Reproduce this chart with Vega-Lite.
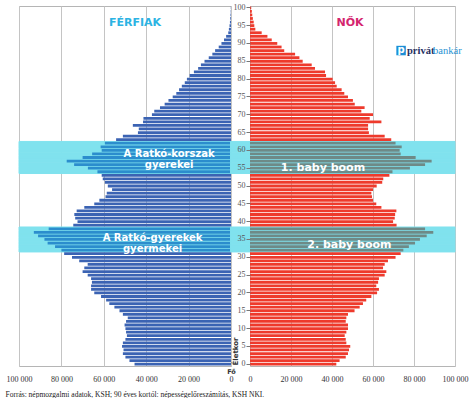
{
  "$schema": "https://vega.github.io/schema/vega-lite/v6.json",
  "description": "Population pyramid, Hungary, men (left) and women (right) by single year of age",
  "background": "white",
  "padding": {"left": 5, "top": 2, "right": 0, "bottom": 0},
  "bounds": "flush",
  "spacing": 19,
  "title": {
    "text": "Forrás: népmozgalmi adatok, KSH; 90 éves kortól: népességelőreszámítás, KSH NKI.",
    "orient": "bottom",
    "anchor": "start",
    "frame": "bounds",
    "font": "Liberation Serif",
    "fontSize": 7.5,
    "fontWeight": "normal",
    "color": "#222222",
    "offset": 7
  },
  "config": {
    "view": {"stroke": "#b5b5b5", "strokeWidth": 1},
    "text": {"font": "DejaVu Sans"}
  },
  "datasets": {
    "pop": [
      {"age": 0, "sex": "férfi", "count": 45500}, {"age": 1, "sex": "férfi", "count": 47900},
      {"age": 2, "sex": "férfi", "count": 49800}, {"age": 3, "sex": "férfi", "count": 51000},
      {"age": 4, "sex": "férfi", "count": 50700}, {"age": 5, "sex": "férfi", "count": 51400},
      {"age": 6, "sex": "férfi", "count": 51000}, {"age": 7, "sex": "férfi", "count": 49800},
      {"age": 8, "sex": "férfi", "count": 49100}, {"age": 9, "sex": "férfi", "count": 49500},
      {"age": 10, "sex": "férfi", "count": 49800}, {"age": 11, "sex": "férfi", "count": 50200},
      {"age": 12, "sex": "férfi", "count": 49500}, {"age": 13, "sex": "férfi", "count": 48700},
      {"age": 14, "sex": "férfi", "count": 51000}, {"age": 15, "sex": "férfi", "count": 52600},
      {"age": 16, "sex": "férfi", "count": 55000}, {"age": 17, "sex": "férfi", "count": 57400},
      {"age": 18, "sex": "férfi", "count": 58900}, {"age": 19, "sex": "férfi", "count": 61300},
      {"age": 20, "sex": "férfi", "count": 64500}, {"age": 21, "sex": "férfi", "count": 66000},
      {"age": 22, "sex": "férfi", "count": 66000}, {"age": 23, "sex": "férfi", "count": 65600},
      {"age": 24, "sex": "férfi", "count": 66000}, {"age": 25, "sex": "férfi", "count": 67600},
      {"age": 26, "sex": "férfi", "count": 70000}, {"age": 27, "sex": "férfi", "count": 69200},
      {"age": 28, "sex": "férfi", "count": 67600}, {"age": 29, "sex": "férfi", "count": 71600},
      {"age": 30, "sex": "férfi", "count": 75000}, {"age": 31, "sex": "férfi", "count": 78700},
      {"age": 32, "sex": "férfi", "count": 80000}, {"age": 33, "sex": "férfi", "count": 83000},
      {"age": 34, "sex": "férfi", "count": 86500}, {"age": 35, "sex": "férfi", "count": 88000},
      {"age": 36, "sex": "férfi", "count": 91000}, {"age": 37, "sex": "férfi", "count": 93000},
      {"age": 38, "sex": "férfi", "count": 86000}, {"age": 39, "sex": "férfi", "count": 74400},
      {"age": 40, "sex": "férfi", "count": 72400}, {"age": 41, "sex": "férfi", "count": 73500},
      {"age": 42, "sex": "férfi", "count": 73900}, {"age": 43, "sex": "férfi", "count": 72800},
      {"age": 44, "sex": "férfi", "count": 69200}, {"age": 45, "sex": "férfi", "count": 64500},
      {"age": 46, "sex": "férfi", "count": 62100}, {"age": 47, "sex": "férfi", "count": 59200},
      {"age": 48, "sex": "férfi", "count": 58600}, {"age": 49, "sex": "férfi", "count": 56100},
      {"age": 50, "sex": "férfi", "count": 58100}, {"age": 51, "sex": "férfi", "count": 59500},
      {"age": 52, "sex": "férfi", "count": 60500}, {"age": 53, "sex": "férfi", "count": 61000},
      {"age": 54, "sex": "férfi", "count": 63000}, {"age": 55, "sex": "férfi", "count": 67500},
      {"age": 56, "sex": "férfi", "count": 74000}, {"age": 57, "sex": "férfi", "count": 77500},
      {"age": 58, "sex": "férfi", "count": 70000}, {"age": 59, "sex": "férfi", "count": 65500},
      {"age": 60, "sex": "férfi", "count": 61000}, {"age": 61, "sex": "férfi", "count": 61500},
      {"age": 62, "sex": "férfi", "count": 59500}, {"age": 63, "sex": "férfi", "count": 54200},
      {"age": 64, "sex": "férfi", "count": 51000}, {"age": 65, "sex": "férfi", "count": 43900},
      {"age": 66, "sex": "férfi", "count": 43500}, {"age": 67, "sex": "férfi", "count": 46300},
      {"age": 68, "sex": "férfi", "count": 41500}, {"age": 69, "sex": "férfi", "count": 41300},
      {"age": 70, "sex": "férfi", "count": 37300}, {"age": 71, "sex": "férfi", "count": 36200},
      {"age": 72, "sex": "férfi", "count": 33500}, {"age": 73, "sex": "férfi", "count": 31300},
      {"age": 74, "sex": "férfi", "count": 29500}, {"age": 75, "sex": "férfi", "count": 27500},
      {"age": 76, "sex": "férfi", "count": 25800}, {"age": 77, "sex": "férfi", "count": 24500},
      {"age": 78, "sex": "férfi", "count": 23200}, {"age": 79, "sex": "férfi", "count": 21800},
      {"age": 80, "sex": "férfi", "count": 20800}, {"age": 81, "sex": "férfi", "count": 19500},
      {"age": 82, "sex": "férfi", "count": 17500}, {"age": 83, "sex": "férfi", "count": 15500},
      {"age": 84, "sex": "férfi", "count": 14200}, {"age": 85, "sex": "férfi", "count": 12500},
      {"age": 86, "sex": "férfi", "count": 10500}, {"age": 87, "sex": "férfi", "count": 8800},
      {"age": 88, "sex": "férfi", "count": 7500}, {"age": 89, "sex": "férfi", "count": 5800},
      {"age": 90, "sex": "férfi", "count": 4500}, {"age": 91, "sex": "férfi", "count": 3300},
      {"age": 92, "sex": "férfi", "count": 2300}, {"age": 93, "sex": "férfi", "count": 1300},
      {"age": 94, "sex": "férfi", "count": 1000}, {"age": 95, "sex": "férfi", "count": 700},
      {"age": 96, "sex": "férfi", "count": 500}, {"age": 97, "sex": "férfi", "count": 350},
      {"age": 98, "sex": "férfi", "count": 250}, {"age": 99, "sex": "férfi", "count": 150},
      {"age": 100, "sex": "férfi", "count": 100},
      {"age": 0, "sex": "nő", "count": 42100}, {"age": 1, "sex": "nő", "count": 43700},
      {"age": 2, "sex": "nő", "count": 46700}, {"age": 3, "sex": "nő", "count": 47800},
      {"age": 4, "sex": "nő", "count": 48300}, {"age": 5, "sex": "nő", "count": 48900},
      {"age": 6, "sex": "nő", "count": 47000}, {"age": 7, "sex": "nő", "count": 46700},
      {"age": 8, "sex": "nő", "count": 46200}, {"age": 9, "sex": "nő", "count": 47000},
      {"age": 10, "sex": "nő", "count": 47800}, {"age": 11, "sex": "nő", "count": 47800},
      {"age": 12, "sex": "nő", "count": 46700}, {"age": 13, "sex": "nő", "count": 47000},
      {"age": 14, "sex": "nő", "count": 47800}, {"age": 15, "sex": "nő", "count": 51000},
      {"age": 16, "sex": "nő", "count": 53500}, {"age": 17, "sex": "nő", "count": 55100},
      {"age": 18, "sex": "nő", "count": 56700}, {"age": 19, "sex": "nő", "count": 59200},
      {"age": 20, "sex": "nő", "count": 62000}, {"age": 21, "sex": "nő", "count": 62900},
      {"age": 22, "sex": "nő", "count": 61600}, {"age": 23, "sex": "nő", "count": 62500},
      {"age": 24, "sex": "nő", "count": 62900}, {"age": 25, "sex": "nő", "count": 65700},
      {"age": 26, "sex": "nő", "count": 66500}, {"age": 27, "sex": "nő", "count": 64900},
      {"age": 28, "sex": "nő", "count": 65700}, {"age": 29, "sex": "nő", "count": 67300},
      {"age": 30, "sex": "nő", "count": 71000}, {"age": 31, "sex": "nő", "count": 73500},
      {"age": 32, "sex": "nő", "count": 74800}, {"age": 33, "sex": "nő", "count": 77500},
      {"age": 34, "sex": "nő", "count": 80500}, {"age": 35, "sex": "nő", "count": 82900},
      {"age": 36, "sex": "nő", "count": 86200}, {"age": 37, "sex": "nő", "count": 89400},
      {"age": 38, "sex": "nő", "count": 85400}, {"age": 39, "sex": "nő", "count": 71500},
      {"age": 40, "sex": "nő", "count": 69800}, {"age": 41, "sex": "nő", "count": 70600},
      {"age": 42, "sex": "nő", "count": 70800}, {"age": 43, "sex": "nő", "count": 71400},
      {"age": 44, "sex": "nő", "count": 64100}, {"age": 45, "sex": "nő", "count": 61600},
      {"age": 46, "sex": "nő", "count": 60000}, {"age": 47, "sex": "nő", "count": 59500},
      {"age": 48, "sex": "nő", "count": 59200}, {"age": 49, "sex": "nő", "count": 60000},
      {"age": 50, "sex": "nő", "count": 61800}, {"age": 51, "sex": "nő", "count": 64500},
      {"age": 52, "sex": "nő", "count": 65000}, {"age": 53, "sex": "nő", "count": 68000},
      {"age": 54, "sex": "nő", "count": 69500}, {"age": 55, "sex": "nő", "count": 78000},
      {"age": 56, "sex": "nő", "count": 85400}, {"age": 57, "sex": "nő", "count": 88600},
      {"age": 58, "sex": "nő", "count": 80800}, {"age": 59, "sex": "nő", "count": 73500},
      {"age": 60, "sex": "nő", "count": 73000}, {"age": 61, "sex": "nő", "count": 74000},
      {"age": 62, "sex": "nő", "count": 71000}, {"age": 63, "sex": "nő", "count": 68900},
      {"age": 64, "sex": "nő", "count": 65700}, {"age": 65, "sex": "nő", "count": 58000},
      {"age": 66, "sex": "nő", "count": 57600}, {"age": 67, "sex": "nő", "count": 57600},
      {"age": 68, "sex": "nő", "count": 64100}, {"age": 69, "sex": "nő", "count": 58400},
      {"age": 70, "sex": "nő", "count": 60000}, {"age": 71, "sex": "nő", "count": 54300},
      {"age": 72, "sex": "nő", "count": 55900}, {"age": 73, "sex": "nő", "count": 51100},
      {"age": 74, "sex": "nő", "count": 50200}, {"age": 75, "sex": "nő", "count": 47800},
      {"age": 76, "sex": "nő", "count": 46000}, {"age": 77, "sex": "nő", "count": 44700},
      {"age": 78, "sex": "nő", "count": 42300}, {"age": 79, "sex": "nő", "count": 41500},
      {"age": 80, "sex": "nő", "count": 40300}, {"age": 81, "sex": "nő", "count": 37100},
      {"age": 82, "sex": "nő", "count": 36600}, {"age": 83, "sex": "nő", "count": 31700},
      {"age": 84, "sex": "nő", "count": 30100}, {"age": 85, "sex": "nő", "count": 25700},
      {"age": 86, "sex": "nő", "count": 24100}, {"age": 87, "sex": "nő", "count": 22000},
      {"age": 88, "sex": "nő", "count": 16700}, {"age": 89, "sex": "nő", "count": 15400},
      {"age": 90, "sex": "nő", "count": 13300}, {"age": 91, "sex": "nő", "count": 10600},
      {"age": 92, "sex": "nő", "count": 8500}, {"age": 93, "sex": "nő", "count": 5700},
      {"age": 94, "sex": "nő", "count": 2600}, {"age": 95, "sex": "nő", "count": 2100},
      {"age": 96, "sex": "nő", "count": 1800}, {"age": 97, "sex": "nő", "count": 1400},
      {"age": 98, "sex": "nő", "count": 1100}, {"age": 99, "sex": "nő", "count": 900},
      {"age": 100, "sex": "nő", "count": 600}
    ]
  },
  "hconcat": [
    {
      "width": 212,
      "height": 360,
      "data": {"name": "pop"},
      "transform": [{"filter": "datum.sex === 'férfi'"}],
      "encoding": {
        "y": {
          "field": "age",
          "type": "ordinal",
          "scale": {"reverse": true, "paddingInner": 0, "paddingOuter": 0},
          "axis": null
        },
        "x": {
          "field": "count",
          "type": "quantitative",
          "scale": {"domain": [0, 100000], "reverse": true, "nice": false},
          "axis": {
            "values": [0, 20000, 40000, 60000, 80000, 100000],
            "labelExpr": "replace(format(datum.value, ','), ',', ' ')",
            "grid": true,
            "gridColor": "#c4c4c4",
            "ticks": false,
            "domain": false,
            "labelFlush": false,
            "labelFont": "Liberation Serif",
            "labelFontSize": 8,
            "labelColor": "#333333",
            "labelPadding": 9,
            "title": "Fő",
            "titleFont": "DejaVu Sans",
            "titleFontSize": 6.5,
            "titleFontWeight": "bold",
            "titleColor": "#333333",
            "titleX": 212,
            "titleY": 5,
            "titleAlign": "center",
            "titleBaseline": "middle"
          }
        }
      },
      "layer": [
        {
          "transform": [{"filter": "(datum.age >= 54 && datum.age <= 62) || (datum.age >= 32 && datum.age <= 38)"}],
          "mark": {"type": "rect", "color": "#80e2ee", "stroke": "#80e2ee", "strokeWidth": 1},
          "encoding": {
            "x": {"datum": 100000, "type": "quantitative"},
            "x2": {"datum": 0}
          }
        },
        {
          "mark": {"type": "bar", "height": {"band": 0.78}},
          "encoding": {
            "color": {
              "condition": {
                "test": "(datum.age >= 54 && datum.age <= 62) || (datum.age >= 32 && datum.age <= 38)",
                "value": "#2b8dcd"
              },
              "value": "#3b63b3"
            }
          }
        },
        {
          "transform": [{"filter": "datum.age === 96"}],
          "mark": {"type": "text", "color": "#2cb3e3", "fontSize": 11, "fontWeight": "bold", "dy": 1},
          "encoding": {
            "x": {"datum": 45300, "type": "quantitative"},
            "text": {"value": "FÉRFIAK"}
          }
        },
        {
          "transform": [{"filter": "datum.age === 58"}],
          "mark": {"type": "text", "color": "white", "fontSize": 10, "fontWeight": "bold", "lineHeight": 11, "dy": -3},
          "encoding": {
            "x": {"datum": 29200, "type": "quantitative"},
            "text": {"value": ["A Ratkó-korszak", "gyerekei"]}
          }
        },
        {
          "transform": [{"filter": "datum.age === 34"}],
          "mark": {"type": "text", "color": "white", "fontSize": 10, "fontWeight": "bold", "lineHeight": 11, "dy": -5},
          "encoding": {
            "x": {"datum": 37000, "type": "quantitative"},
            "text": {"value": ["A Ratkó-gyerekek", "gyermekei"]}
          }
        }
      ]
    },
    {
      "width": 205,
      "height": 360,
      "data": {"name": "pop"},
      "transform": [{"filter": "datum.sex === 'nő'"}],
      "encoding": {
        "y": {
          "field": "age",
          "type": "ordinal",
          "scale": {"reverse": true, "paddingInner": 0, "paddingOuter": 0},
          "axis": {
            "orient": "left",
            "values": [0, 5, 10, 15, 20, 25, 30, 35, 40, 45, 50, 55, 60, 65, 70, 75, 80, 85, 90, 95, 100],
            "domain": false,
            "ticks": true,
            "tickSize": 4,
            "tickColor": "#777777",
            "labelAngle": 0,
            "labelFont": "Liberation Serif",
            "labelFontSize": 8,
            "labelColor": "#555555",
            "labelPadding": 1,
            "zindex": 1,
            "title": "Életkor",
            "titleFont": "DejaVu Sans",
            "titleFontSize": 7,
            "titleFontWeight": "bold",
            "titleColor": "#333333",
            "titleAngle": -90,
            "titleX": -15,
            "titleY": 345,
            "titleAlign": "center",
            "titleBaseline": "middle"
          }
        },
        "x": {
          "field": "count",
          "type": "quantitative",
          "scale": {"domain": [0, 100000], "nice": false},
          "axis": {
            "values": [0, 20000, 40000, 60000, 80000, 100000],
            "labelExpr": "replace(format(datum.value, ','), ',', ' ')",
            "grid": true,
            "gridColor": "#c4c4c4",
            "ticks": false,
            "domain": false,
            "labelFlush": false,
            "labelFont": "Liberation Serif",
            "labelFontSize": 8,
            "labelColor": "#333333",
            "labelPadding": 9,
            "title": null
          }
        }
      },
      "layer": [
        {
          "transform": [{"filter": "(datum.age >= 54 && datum.age <= 62) || (datum.age >= 32 && datum.age <= 38)"}],
          "mark": {"type": "rect", "color": "#80e2ee", "stroke": "#80e2ee", "strokeWidth": 1},
          "encoding": {
            "x": {"datum": -9500, "type": "quantitative"},
            "x2": {"datum": 100000}
          }
        },
        {
          "mark": {"type": "bar", "height": {"band": 0.78}},
          "encoding": {
            "color": {
              "condition": {
                "test": "(datum.age >= 54 && datum.age <= 62) || (datum.age >= 32 && datum.age <= 38)",
                "value": "#6e8a87"
              },
              "value": "#ee3a2c"
            }
          }
        },
        {
          "transform": [{"filter": "datum.age === 96"}],
          "mark": {"type": "text", "color": "#d4256d", "fontSize": 11, "fontWeight": "bold", "dy": 1},
          "encoding": {
            "x": {"datum": 48800, "type": "quantitative"},
            "text": {"value": "NŐK"}
          }
        },
        {
          "transform": [{"filter": "datum.age === 55"}],
          "mark": {"type": "text", "color": "white", "fontSize": 11, "fontWeight": "bold"},
          "encoding": {
            "x": {"datum": 35600, "type": "quantitative"},
            "text": {"value": "1. baby boom"}
          }
        },
        {
          "transform": [{"filter": "datum.age === 34"}],
          "mark": {"type": "text", "color": "white", "fontSize": 11, "fontWeight": "bold", "dy": 2},
          "encoding": {
            "x": {"datum": 48500, "type": "quantitative"},
            "text": {"value": "2. baby boom"}
          }
        },
        {
          "transform": [{"filter": "datum.age === 88"}],
          "mark": {"type": "point", "shape": "square", "filled": true, "size": 90, "color": "#1c8fd6", "opacity": 1},
          "encoding": {
            "x": {"datum": 73700, "type": "quantitative"}
          }
        },
        {
          "transform": [{"filter": "datum.age === 88"}],
          "mark": {"type": "text", "color": "white", "fontSize": 10, "fontWeight": "bold", "dy": -0.5},
          "encoding": {
            "x": {"datum": 73700, "type": "quantitative"},
            "text": {"value": "p"}
          }
        },
        {
          "transform": [{"filter": "datum.age === 88"}],
          "mark": {"type": "text", "color": "#1f2f5f", "font": "Liberation Serif", "fontSize": 10.5, "fontWeight": "bold", "align": "left"},
          "encoding": {
            "x": {"datum": 76600, "type": "quantitative"},
            "text": {"value": "privát"}
          }
        },
        {
          "transform": [{"filter": "datum.age === 88"}],
          "mark": {"type": "text", "color": "#2893d3", "font": "Liberation Serif", "fontSize": 10.5, "align": "left"},
          "encoding": {
            "x": {"datum": 89300, "type": "quantitative"},
            "text": {"value": "bankár"}
          }
        }
      ]
    }
  ]
}
